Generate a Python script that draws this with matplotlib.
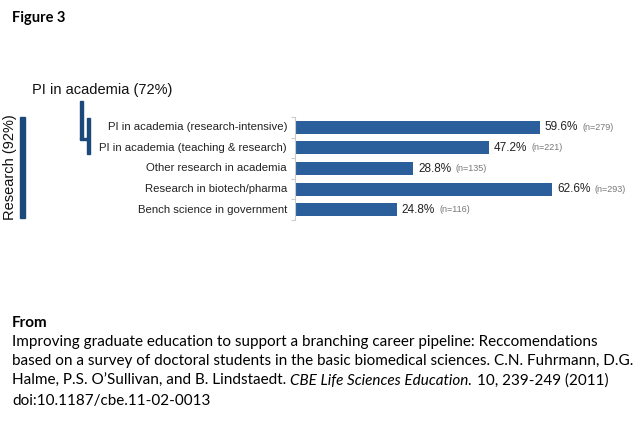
import matplotlib.pyplot as plt
from matplotlib.patches import Rectangle

plt.rcParams["font.family"] = ["Liberation Sans", "DejaVu Sans"]

categories = ["PI in academia (research-intensive)", "PI in academia (teaching & research)",
              "Other research in academia", "Research in biotech/pharma",
              "Bench science in government"]
percents = [59.6, 47.2, 28.8, 62.6, 24.8]
counts = [279, 221, 135, 293, 116]

W, H = 644, 422
bar_color = "#2a5f9b"
dark = "#1b4a7a"

fig = plt.figure(figsize=(W / 100, H / 100), dpi=100)


def fx(px):
    return px / W


def fy(py):
    return 1 - py / H


ax = fig.add_axes([fx(295), fy(220), fx(411), (220 - 117) / H])
y = list(range(len(categories)))
ax.barh(y, percents, height=0.63, color=bar_color)
ax.set_xlim(0, 100)
ax.set_ylim(len(categories) - 0.5, -0.5)
for s in ["top", "right", "bottom"]:
    ax.spines[s].set_visible(False)
ax.spines["left"].set_color("#cccccc")
ax.set_xticks([])
ax.set_yticks([i - 0.5 for i in range(len(categories) + 1)])
ax.set_yticklabels([])
ax.tick_params(axis="y", length=3, color="#cccccc")
for i, (p, n, c) in enumerate(zip(percents, counts, categories)):
    t = ax.text(p + 1.2, i, f"{p}%", va="center", fontsize=8.5, color="#222222")
    ax.annotate(f"(n={n})", xy=(1, 0.5), xycoords=t, xytext=(3, 0),
                textcoords="offset points", va="center", fontsize=6.5, color="#777777")
    fig.text(fx(287), fy(127 + i * 20.7), c, ha="right", va="center", fontsize=8.2, color="#222222")

# brackets
fig.patches.append(Rectangle((fx(20), fy(218)), fx(4.5), (218 - 117) / H,
                             transform=fig.transFigure, color=dark))
fig.patches.append(Rectangle((fx(80), fy(139)), fx(2.5), (139 - 101) / H,
                             transform=fig.transFigure, color=dark))
fig.patches.append(Rectangle((fx(80), fy(140)), fx(9), 2 / H,
                             transform=fig.transFigure, color=dark))
fig.patches.append(Rectangle((fx(86.5), fy(154)), fx(3.5), (154 - 118) / H,
                             transform=fig.transFigure, color=dark))
fig.text(fx(10), fy(167), "Research (92%)", rotation=90, ha="center", va="center",
         fontsize=10.5, color="#111111")
fig.text(fx(32), fy(90), "PI in academia (72%)", ha="left", va="center",
         fontsize=10.5, color="#111111")

tf = "Lato"
fig.text(fx(12), fy(18), "Figure 3", fontsize=10.5, fontweight="bold", family=tf, va="center")
fig.text(fx(12), fy(323), "From", fontsize=11, fontweight="bold", family=tf, va="center")
lines = [
    "Improving graduate education to support a branching career pipeline: Reccomendations",
    "based on a survey of doctoral students in the basic biomedical sciences. C.N. Fuhrmann, D.G.",
    None,
    "doi:10.1187/cbe.11-02-0013",
]
for i, ln in enumerate(lines):
    if ln is not None:
        fig.text(fx(12), fy(342 + i * 19.5), ln, fontsize=11, family=tf, va="center")
t1 = fig.text(fx(12), fy(342 + 2 * 19.5), "Halme, P.S. O\u2019Sullivan, and B. Lindstaedt.",
              fontsize=11, family=tf, va="center")
t2 = fig.text(0, 0, "", fontsize=11)
t2 = plt.annotate("CBE Life Sciences Education.", xy=(1, 0.5), xycoords=t1, xytext=(3, 0),
                  textcoords="offset points", va="center", fontsize=11, family=tf,
                  fontstyle="italic", annotation_clip=False)
plt.annotate("10, 239-249 (2011)", xy=(1, 0.5), xycoords=t2, xytext=(3, 0),
             textcoords="offset points", va="center", fontsize=11, family=tf,
             annotation_clip=False)

fig.savefig("out.png", dpi=100)
